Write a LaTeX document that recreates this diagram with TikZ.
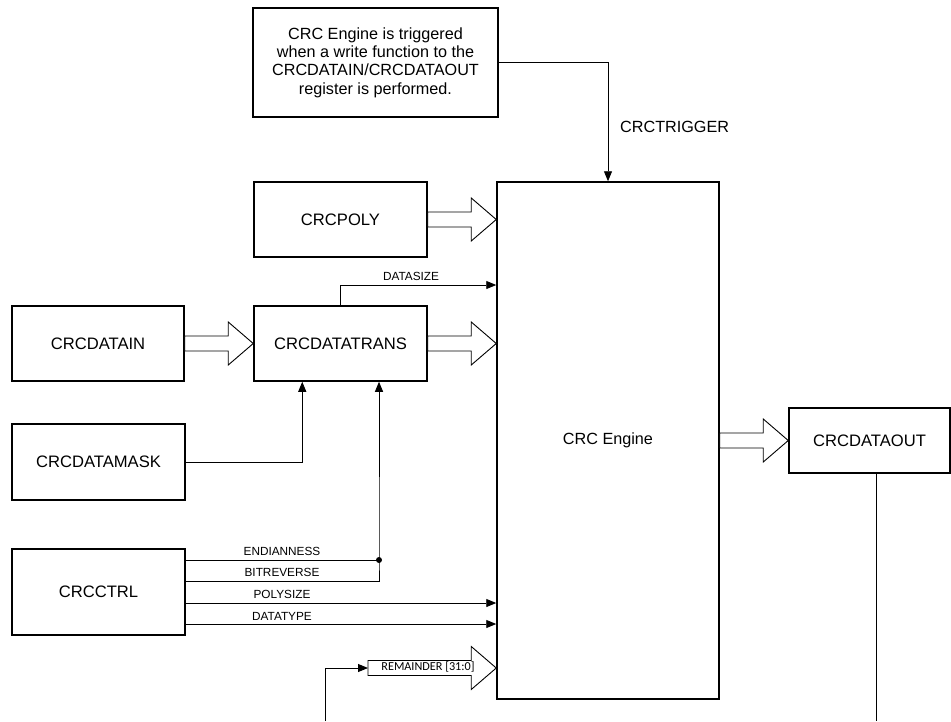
\documentclass[tikz,border=0pt]{standalone}
\usepackage{fontspec}
\setmainfont{Liberation Sans}
\newfontfamily\remfont{Carlito}
\usetikzlibrary{arrows.meta,calc}

\tikzset{
  block/.style={draw, line width=1.5pt, align=center, inner sep=0pt,
    font=\fontsize{16.6}{18.3}\selectfont},
  sig/.style={line width=0.9pt},
  sigarrow/.style={sig, -{Triangle[length=10pt,width=8pt]}},
  siglabel/.style={font=\fontsize{11.8}{13}\selectfont, inner sep=0pt},
  bus/.style={draw, line width=0.9pt, fill=white},
}

% hollow bus arrow from #1 to the tip #2 (horizontal)
\newcommand{\busarrow}[2]{%
  \draw[bus] let \p1=(#1), \p2=(#2) in
    (\x1,\y1+7.5pt) -- (\x2-25pt,\y1+7.5pt) -- (\x2-25pt,\y1+21.5pt)
    -- (\x2,\y1) -- (\x2-25pt,\y1-21.5pt) -- (\x2-25pt,\y1-7.5pt)
    -- (\x1,\y1-7.5pt) -- cycle;}

\begin{document}
\begin{tikzpicture}[x=1pt,y=-1pt]
	\useasboundingbox (0,0) rectangle (951,721);
	
	%--- Blocks ---
	\node[block, minimum width=245pt, minimum height=109pt, font=\fontsize{16.2}{18.3}\selectfont] (note) at (375.5,62.5)
	{CRC Engine is triggered\\when a write function to the\\CRCDATAIN/CRCDATAOUT\\register is performed.};
	\node[block, minimum width=222pt, minimum height=517pt, font=\fontsize{16.2}{18.3}\selectfont] (engine) at (608,440.5) {CRC Engine};
	\node[block, minimum width=173pt, minimum height=75pt] (poly) at (340.5,219.5) {CRCPOLY};
	\node[block, minimum width=172pt, minimum height=75pt] (datain) at (98,343.5) {CRCDATAIN};
	\node[block, minimum width=173pt, minimum height=75pt] (trans) at (340.5,343.5) {CRCDATATRANS};
	\node[block, minimum width=173pt, minimum height=76pt] (mask) at (98.5,462) {CRCDATAMASK};
	\node[block, minimum width=173pt, minimum height=86pt] (ctrl) at (98.5,592) {CRCCTRL};
	\node[block, minimum width=161pt, minimum height=65pt] (dataout) at (869.5,440.5) {CRCDATAOUT};
	
	%--- Trigger ---
	\draw[sigarrow] (note.east) -| (engine.north);
	\node[anchor=west, inner sep=0pt, font=\fontsize{16.2}{18.3}\selectfont] (trig) at (620,127) {CRCTRIGGER};
	
	%--- Bus arrows ---
	\busarrow{poly.east}{poly.east -| engine.west}
	\busarrow{datain.east}{trans.west}
	\busarrow{trans.east}{trans.east -| engine.west}
	\busarrow{engine.east |- dataout.west}{dataout.west}
	
	% DATASIZE
	\draw[sigarrow] (trans.north) |- (engine.west |- 0,285);
	\node[siglabel] (lsize) at (411,276) {DATASIZE};
	
	% mask into CRCDATATRANS
	\draw[sigarrow] (mask.east) -| ([xshift=49pt]trans.south west);
	
	%--- CRCCTRL signals ---
	\coordinate (jn) at (379,560);
	\draw[sig] (ctrl.east |- jn) -- (jn);
	\draw[sigarrow] (ctrl.east |- 0,581) -| (jn) -- (jn |- trans.south);
	\fill (jn) circle (3pt);
	\draw[sigarrow] (ctrl.east |- 0,603) -- (engine.west |- 0,603);
	\draw[sigarrow] (ctrl.east |- 0,624) -- (engine.west |- 0,624);
	\node[siglabel] (lend) at (282,551) {ENDIANNESS};
	\node[siglabel] (lbit) at (282,572) {BITREVERSE};
	\node[siglabel] (lpoly) at (282,594) {POLYSIZE};
	\node[siglabel] (ltype) at (282,616) {DATATYPE};
	
	%--- Remainder feedback ---
	\coordinate (rembot) at (325,721);
	\coordinate (remin) at (368,668);
	\busarrow{remin}{remin -| engine.west}
	\node[font=\remfont\fontsize{12.2}{14}\selectfont, inner sep=0pt] (lrem) at (428,667) {REMAINDER [31:0]};
	\draw[sigarrow] (rembot) |- (remin);
	
	% CRCDATAOUT feedback line
	\coordinate (outbot) at (876,721);
	\draw[sig] (dataout.south -| outbot) -- (outbot);
	
\end{tikzpicture}
\end{document}
